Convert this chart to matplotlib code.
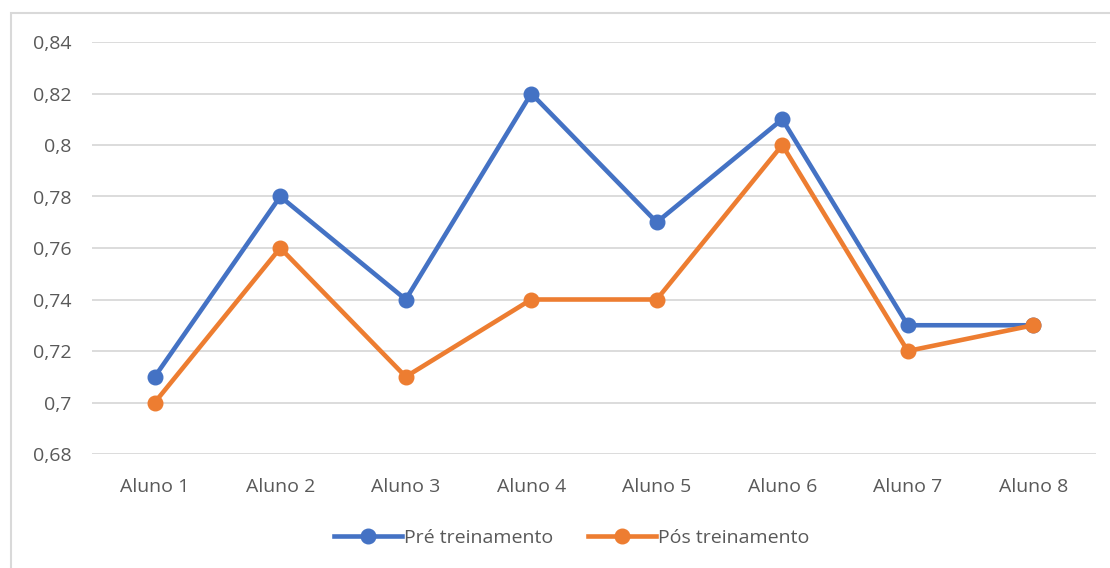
import matplotlib
matplotlib.use("Agg")
import matplotlib.pyplot as plt
from matplotlib.patches import Rectangle
from matplotlib.ticker import FuncFormatter

categories = ["Aluno 1", "Aluno 2", "Aluno 3", "Aluno 4", "Aluno 5", "Aluno 6", "Aluno 7", "Aluno 8"]
pre = [0.71, 0.78, 0.74, 0.82, 0.77, 0.81, 0.73, 0.73]
pos = [0.70, 0.76, 0.71, 0.74, 0.74, 0.80, 0.72, 0.73]
yticks = [0.68, 0.70, 0.72, 0.74, 0.76, 0.78, 0.80, 0.82, 0.84]
series_names = ["Pré treinamento", "Pós treinamento"]

plt.rcParams['font.family'] = ['Open Sans', 'DejaVu Sans']
W, H = 1110, 568
fig = plt.figure(figsize=(W / 100, H / 100), dpi=100)
fig.patches.append(Rectangle((10.5 / W, -0.1), 1.2, (H - 13) / H + 0.1, transform=fig.transFigure,
                             fill=False, edgecolor="#d9d9d9", linewidth=1.5))

ax = fig.add_axes([92 / W, (H - 454) / H, (1096 - 92) / W, (454 - 42) / H])
x = list(range(len(categories)))
ax.plot(x, pre, color="#4472C4", linewidth=3.3, marker="o", markersize=10.5, label=series_names[0],
        solid_joinstyle="round", zorder=3)
ax.plot(x, pos, color="#ED7D31", linewidth=3.3, marker="o", markersize=10.5, label=series_names[1],
        solid_joinstyle="round", zorder=4)

ax.set_xlim(-0.5, len(categories) - 0.5)
ax.set_ylim(0.68, 0.84)
ax.set_yticks(yticks)
ax.yaxis.set_major_formatter(FuncFormatter(lambda v, p: f"{v:.2f}".rstrip("0").replace(".", ",")))
ax.set_xticks(x)
ax.set_xticklabels(categories)
ax.grid(axis="y", color="#d9d9d9", linewidth=1.3)
ax.set_axisbelow(True)
for s in ax.spines.values():
    s.set_visible(False)
ax.tick_params(axis="both", length=0, labelsize=14, colors="#595959")
ax.tick_params(axis="y", pad=15)
ax.tick_params(axis="x", pad=17)

leg = fig.legend(loc="center", bbox_to_anchor=(572 / W, (H - 538) / H), ncol=2, frameon=False,
                 fontsize=14, handlelength=3.5, columnspacing=1.8, handletextpad=0.1)
for t in leg.get_texts():
    t.set_color("#595959")

fig.savefig("out.png", dpi=100)
